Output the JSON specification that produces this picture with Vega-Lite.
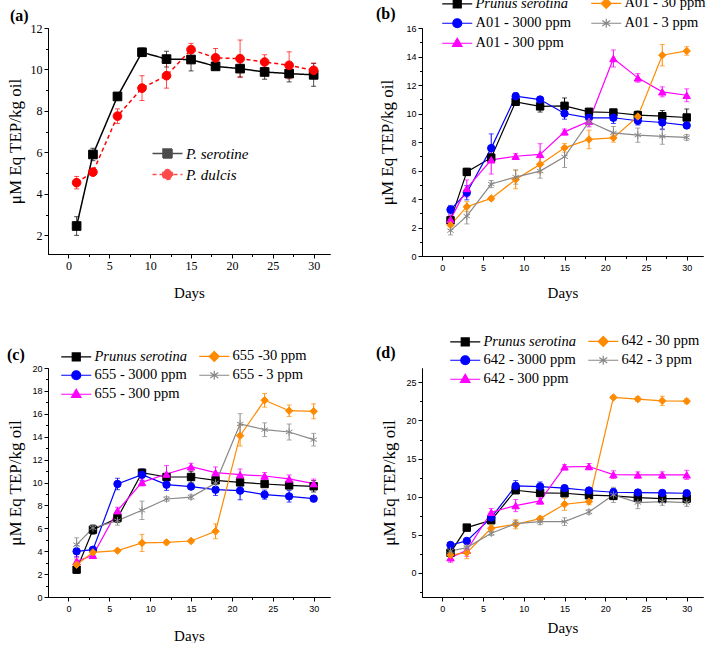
{
"$schema":"https://vega.github.io/schema/vega-lite/v6.json",
"padding":{"left":6,"top":-4,"right":0,"bottom":0},
"background":"white",
"config":{"view":{"stroke":null},"axis":{"domain":true,"ticks":true,"domainColor":"#000000","tickColor":"#000000","labelColor":"#000000","titleColor":"#000000","grid":false,"domainWidth":1,"tickWidth":1},"legend":{"labelColor":"#000000"}},
"bounds":"flush",
"columns":2,
"spacing":{"row":112,"column":92},
"resolve":{"scale":{"color":"independent","shape":"independent","stroke":"independent","strokeDash":"independent"},"legend":{"color":"independent","shape":"independent","stroke":"independent","strokeDash":"independent"}},
"concat":[
{
"width":282,"height":226,
"title":{"text":"(a)","anchor":"start","frame":"group","dx":-38,"offset":-15,"baseline":"alphabetic","fontSize":16,"font":"Liberation Serif","fontWeight":"bold","color":"#000000"},
"data":{"values":[
{"s":"P. serotine","d":1,"v":2.45,"e":0.45},{"s":"P. serotine","d":3,"v":5.9,"e":0.3},{"s":"P. serotine","d":6,"v":8.7,"e":0.1},{"s":"P. serotine","d":9,"v":10.83,"e":0.2},{"s":"P. serotine","d":12,"v":10.5,"e":0.38},{"s":"P. serotine","d":15,"v":10.48,"e":0.55},{"s":"P. serotine","d":18,"v":10.15,"e":0.1},{"s":"P. serotine","d":21,"v":10.04,"e":0.4},{"s":"P. serotine","d":24,"v":9.88,"e":0.35},{"s":"P. serotine","d":27,"v":9.8,"e":0.4},{"s":"P. serotine","d":30,"v":9.74,"e":0.55},
{"s":"P. dulcis","d":1,"v":4.54,"e":0.3},{"s":"P. dulcis","d":3,"v":5.05,"e":0.1},{"s":"P. dulcis","d":6,"v":7.75,"e":0.35},{"s":"P. dulcis","d":9,"v":9.1,"e":0.6},{"s":"P. dulcis","d":12,"v":9.7,"e":0.6},{"s":"P. dulcis","d":15,"v":10.96,"e":0.3},{"s":"P. dulcis","d":18,"v":10.56,"e":0.45},{"s":"P. dulcis","d":21,"v":10.52,"e":0.9},{"s":"P. dulcis","d":24,"v":10.36,"e":0.35},{"s":"P. dulcis","d":27,"v":10.2,"e":0.65},{"s":"P. dulcis","d":30,"v":9.96,"e":0.35}
]},
"resolve":{"axis":{"x":"independent","y":"independent"}},
"layer":[
{"mark":{"type":"errorbar","ticks":true,"size":5,"thickness":1,"opacity":0.7},
 "encoding":{"x":{"field":"d","type":"quantitative","scale":{"domain":[-2.5,32],"nice":false,"zero":false},"axis":null},
 "y":{"field":"v","type":"quantitative","scale":{"domain":[1.1,12],"nice":false,"zero":false},"axis":null},
 "yError":{"field":"e"},
 "color":{"field":"s","type":"nominal","scale":{"domain":["P. serotine","P. dulcis"],"range":["#000000","#ff0000"]}}}},
{"mark":{"type":"line","strokeWidth":1.5},
 "encoding":{"x":{"field":"d","type":"quantitative","scale":{"domain":[-2.5,32],"nice":false,"zero":false},"axis":{"orient":"bottom","values":[2.5,7.5,12.5,17.5,22.5,27.5],"labels":false,"title":null,"tickSize":2.5}},
 "y":{"field":"v","type":"quantitative","scale":{"domain":[1.1,12],"nice":false,"zero":false},"axis":{"orient":"left","values":[3,5,7,9,11],"labels":false,"title":null,"tickSize":2.5}},
 "color":{"field":"s","type":"nominal","scale":{"domain":["P. serotine","P. dulcis"],"range":["#000000","#ff0000"]}},
 "strokeDash":{"field":"s","type":"nominal","scale":{"domain":["P. serotine","P. dulcis"],"range":[[1,0],[4,3]]},"legend":null}}},
{"mark":{"type":"point","filled":true,"size":75,"opacity":1,"strokeWidth":1},
 "encoding":{"x":{"field":"d","type":"quantitative","scale":{"domain":[-2.5,32],"nice":false,"zero":false},"axis":{"orient":"bottom","values":[0,5,10,15,20,25,30],"title":"Days","titleFont":"Liberation Serif","titleFontSize":15,"titleFontWeight":"normal","titleY":38,"titleBaseline":"middle","labelFont":"Liberation Serif","labelFontSize":12,"labelPadding":2,"tickSize":4}},
 "y":{"field":"v","type":"quantitative","scale":{"domain":[1.1,12],"nice":false,"zero":false},"axis":{"orient":"left","values":[2,4,6,8,10,12],"title":"μM Eq TEP/kg oil","titleFont":"Liberation Serif","titleFontSize":17,"titleFontWeight":"normal","titleX":-24,"titleBaseline":"bottom","labelFont":"Liberation Serif","labelFontSize":12,"labelPadding":2,"tickSize":4}},
 "color":{"field":"s","type":"nominal","scale":{"domain":["P. serotine","P. dulcis"],"range":["#000000","#ff0000"]},
   "legend":{"orient":"none","legendX":102,"legendY":118,"title":null,"symbolSize":100,"symbolOpacity":1,"labelFont":"Liberation Serif","labelFontSize":15,"labelFontStyle":"italic","labelOffset":21,"rowPadding":4,
     "symbolType":{"expr":"['M-1,0H5M1.1,-0.9H2.9V0.9H1.1Z','M-1,0H5M1,0A1,1 0 1,0 3,0A1,1 0 1,0 1,0Z'][datum.index]"},
     "symbolStrokeColor":{"expr":"['#000000','#ff0000'][datum.index]"},"symbolStrokeWidth":1.5}},
 "shape":{"field":"s","type":"nominal","scale":{"domain":["P. dulcis","P. serotine"],"range":["circle","square"]},"legend":null},
 "stroke":{"field":"s","type":"nominal","scale":{"domain":["P. serotine","P. dulcis"],"range":["#000000","#ff0000"]},"legend":null}}}
]
},
{
"width":281,"height":228,
"title":{"text":"(b)","anchor":"start","frame":"group","dx":-46,"offset":-39,"baseline":"alphabetic","fontSize":16,"font":"Liberation Serif","fontWeight":"bold","color":"#000000"},
"data":{"values":[
{"s":"Prunus serotina","d":1,"v":2.5,"e":0.3},{"s":"Prunus serotina","d":3,"v":5.9,"e":0.25},{"s":"Prunus serotina","d":6,"v":6.9,"e":0.3},{"s":"Prunus serotina","d":9,"v":10.82,"e":0.2},{"s":"Prunus serotina","d":12,"v":10.5,"e":0.4},{"s":"Prunus serotina","d":15,"v":10.54,"e":0.55},{"s":"Prunus serotina","d":18,"v":10.12,"e":0.15},{"s":"Prunus serotina","d":21,"v":10.07,"e":0.2},{"s":"Prunus serotina","d":24,"v":9.88,"e":0.3},{"s":"Prunus serotina","d":27,"v":9.81,"e":0.4},{"s":"Prunus serotina","d":30,"v":9.72,"e":0.6},
{"s":"A01 - 3000 ppm","d":1,"v":3.25,"e":0.3},{"s":"A01 - 3000 ppm","d":3,"v":4.44,"e":0.5},{"s":"A01 - 3000 ppm","d":6,"v":7.57,"e":1.0},{"s":"A01 - 3000 ppm","d":9,"v":11.21,"e":0.25},{"s":"A01 - 3000 ppm","d":12,"v":10.98,"e":0.2},{"s":"A01 - 3000 ppm","d":15,"v":10.0,"e":0.4},{"s":"A01 - 3000 ppm","d":18,"v":9.7,"e":0.3},{"s":"A01 - 3000 ppm","d":21,"v":9.7,"e":0.4},{"s":"A01 - 3000 ppm","d":24,"v":9.49,"e":0.3},{"s":"A01 - 3000 ppm","d":27,"v":9.37,"e":0.5},{"s":"A01 - 3000 ppm","d":30,"v":9.16,"e":0.2},
{"s":"A01 - 300 ppm","d":1,"v":2.57,"e":0.3},{"s":"A01 - 300 ppm","d":3,"v":4.74,"e":0.6},{"s":"A01 - 300 ppm","d":6,"v":6.75,"e":1.0},{"s":"A01 - 300 ppm","d":9,"v":7.0,"e":0.2},{"s":"A01 - 300 ppm","d":12,"v":7.13,"e":0.75},{"s":"A01 - 300 ppm","d":15,"v":8.71,"e":0.2},{"s":"A01 - 300 ppm","d":18,"v":9.46,"e":0.4},{"s":"A01 - 300 ppm","d":21,"v":13.86,"e":0.6},{"s":"A01 - 300 ppm","d":24,"v":12.5,"e":0.3},{"s":"A01 - 300 ppm","d":27,"v":11.52,"e":0.35},{"s":"A01 - 300 ppm","d":30,"v":11.28,"e":0.45},
{"s":"A01 - 30 ppm","d":1,"v":2.17,"e":0.3},{"s":"A01 - 30 ppm","d":3,"v":3.46,"e":0.35},{"s":"A01 - 30 ppm","d":6,"v":4.04,"e":0.15},{"s":"A01 - 30 ppm","d":9,"v":5.37,"e":0.65},{"s":"A01 - 30 ppm","d":12,"v":6.43,"e":0.6},{"s":"A01 - 30 ppm","d":15,"v":7.59,"e":0.3},{"s":"A01 - 30 ppm","d":18,"v":8.18,"e":0.65},{"s":"A01 - 30 ppm","d":21,"v":8.29,"e":0.3},{"s":"A01 - 30 ppm","d":24,"v":9.79,"e":0.3},{"s":"A01 - 30 ppm","d":27,"v":14.09,"e":0.75},{"s":"A01 - 30 ppm","d":30,"v":14.39,"e":0.3},
{"s":"A01 - 3 ppm","d":1,"v":1.78,"e":0.3},{"s":"A01 - 3 ppm","d":3,"v":2.8,"e":0.55},{"s":"A01 - 3 ppm","d":6,"v":5.05,"e":0.25},{"s":"A01 - 3 ppm","d":9,"v":5.54,"e":0.5},{"s":"A01 - 3 ppm","d":12,"v":5.96,"e":0.5},{"s":"A01 - 3 ppm","d":15,"v":6.96,"e":0.75},{"s":"A01 - 3 ppm","d":18,"v":9.42,"e":0.3},{"s":"A01 - 3 ppm","d":21,"v":8.64,"e":0.45},{"s":"A01 - 3 ppm","d":24,"v":8.48,"e":0.5},{"s":"A01 - 3 ppm","d":27,"v":8.39,"e":0.55},{"s":"A01 - 3 ppm","d":30,"v":8.32,"e":0.2}
]},
"resolve":{"axis":{"x":"independent","y":"independent"}},
"layer":[
{"mark":{"type":"errorbar","ticks":true,"size":5,"thickness":1},
 "encoding":{"x":{"field":"d","type":"quantitative","scale":{"domain":[-2.5,32],"nice":false,"zero":false},"axis":null},
 "y":{"field":"v","type":"quantitative","scale":{"domain":[0,16],"nice":false,"zero":false},"axis":null},
 "yError":{"field":"e"},
 "color":{"field":"s","type":"nominal","scale":{"domain":["Prunus serotina","A01 - 3000 ppm","A01 - 300 ppm","A01 - 30 ppm","A01 - 3 ppm"],"range":["#000000","#0000ff","#ff00ff","#ff8a00","#888888"]}}}},
{"mark":{"type":"line","strokeWidth":1.2},
 "encoding":{"x":{"field":"d","type":"quantitative","scale":{"domain":[-2.5,32],"nice":false,"zero":false},"axis":{"orient":"bottom","values":[2.5,7.5,12.5,17.5,22.5,27.5],"labels":false,"title":null,"tickSize":2.5}},
 "y":{"field":"v","type":"quantitative","scale":{"domain":[0,16],"nice":false,"zero":false},"axis":{"orient":"left","values":[1,3,5,7,9,11,13,15],"labels":false,"title":null,"tickSize":2.5}},
 "color":{"field":"s","type":"nominal","scale":{"domain":["Prunus serotina","A01 - 3000 ppm","A01 - 300 ppm","A01 - 30 ppm","A01 - 3 ppm"],"range":["#000000","#0000ff","#ff00ff","#ff8a00","#888888"]}}}},
{"mark":{"type":"point","filled":true,"size":55,"opacity":1,"strokeWidth":1},
 "encoding":{"x":{"field":"d","type":"quantitative","scale":{"domain":[-2.5,32],"nice":false,"zero":false},"axis":{"orient":"bottom","values":[0,5,10,15,20,25,30],"title":"Days","titleFont":"Liberation Serif","titleFontSize":15,"titleFontWeight":"normal","titleY":36,"titleBaseline":"middle","labelFont":"Liberation Sans","labelFontSize":9,"labelPadding":3,"tickSize":4}},
 "y":{"field":"v","type":"quantitative","scale":{"domain":[0,16],"nice":false,"zero":false},"axis":{"orient":"left","values":[0,2,4,6,8,10,12,14,16],"title":"μM Eq TEP/kg oil","titleFont":"Liberation Serif","titleFontSize":17,"titleFontWeight":"normal","titleX":-26,"titleBaseline":"bottom","labelFont":"Liberation Sans","labelFontSize":9,"labelPadding":2,"tickSize":4}},
 "color":{"field":"s","type":"nominal","scale":{"domain":["Prunus serotina","A01 - 3000 ppm","A01 - 300 ppm","A01 - 30 ppm","A01 - 3 ppm"],"range":["#000000","#0000ff","#ff00ff","#ff8a00","#888888"]},
   "legend":{"orient":"none","legendX":18,"legendY":-32,"columns":2,"columnPadding":17,"title":null,"symbolSize":100,"symbolOpacity":1,"labelFont":"Liberation Serif","labelFontSize":14.5,"labelOffset":21,"rowPadding":4,
     "symbolType":{"expr":"['M-1,0H5M1.2,-0.8H2.8V0.8H1.2Z','M-1,0H5M1.1,0A0.9,0.9 0 1,0 2.9,0A0.9,0.9 0 1,0 1.1,0Z','M-1,0H5M2,-1L2.95,0.65H1.05Z','M-1,0H5M2,-1L3,0L2,1L1,0Z','M-1,0H5M2,-0.9V0.9M1.2,-0.55L2.8,0.55M1.2,0.55L2.8,-0.55'][datum.index]"},
     "symbolStrokeColor":{"expr":"['#000000','#0000ff','#ff00ff','#ff8a00','#888888'][datum.index]"},"symbolStrokeWidth":1.2,
     "encode":{"labels":{"update":{"fontStyle":{"signal":"datum.index===0 ? 'italic' : 'normal'"}}}}}},
 "shape":{"field":"s","type":"nominal","scale":{"domain":["A01 - 3 ppm","A01 - 30 ppm","A01 - 300 ppm","A01 - 3000 ppm","Prunus serotina"],"range":["M0,-1V1M-0.87,-0.5L0.87,0.5M-0.87,0.5L0.87,-0.5","diamond","triangle-up","circle","square"]},"legend":null},
 "stroke":{"field":"s","type":"nominal","scale":{"domain":["Prunus serotina","A01 - 3000 ppm","A01 - 300 ppm","A01 - 30 ppm","A01 - 3 ppm"],"range":["#000000","#0000ff","#ff00ff","#ff8a00","#888888"]},"legend":null}}}
]
},
{
"width":282,"height":229,
"title":{"text":"(c)","anchor":"start","frame":"group","dx":-41,"offset":-27,"baseline":"alphabetic","fontSize":16,"font":"Liberation Serif","fontWeight":"bold","color":"#000000"},
"data":{"values":[
{"s":"Prunus serotina","d":1,"v":2.39,"e":0.3},{"s":"Prunus serotina","d":3,"v":5.88,"e":0.4},{"s":"Prunus serotina","d":6,"v":6.9,"e":0.4},{"s":"Prunus serotina","d":9,"v":10.85,"e":0.3},{"s":"Prunus serotina","d":12,"v":10.48,"e":0.3},{"s":"Prunus serotina","d":15,"v":10.48,"e":0.5},{"s":"Prunus serotina","d":18,"v":10.19,"e":0.3},{"s":"Prunus serotina","d":21,"v":10.01,"e":0.2},{"s":"Prunus serotina","d":24,"v":9.87,"e":0.2},{"s":"Prunus serotina","d":27,"v":9.75,"e":0.3},{"s":"Prunus serotina","d":30,"v":9.67,"e":0.5},
{"s":"655 - 3000 ppm","d":1,"v":3.99,"e":0.5},{"s":"655 - 3000 ppm","d":3,"v":4.13,"e":0.2},{"s":"655 - 3000 ppm","d":6,"v":9.87,"e":0.5},{"s":"655 - 3000 ppm","d":9,"v":10.68,"e":0.5},{"s":"655 - 3000 ppm","d":12,"v":9.81,"e":0.5},{"s":"655 - 3000 ppm","d":15,"v":9.64,"e":0.15},{"s":"655 - 3000 ppm","d":18,"v":9.37,"e":0.5},{"s":"655 - 3000 ppm","d":21,"v":9.29,"e":0.8},{"s":"655 - 3000 ppm","d":24,"v":8.94,"e":0.4},{"s":"655 - 3000 ppm","d":27,"v":8.79,"e":0.5},{"s":"655 - 3000 ppm","d":30,"v":8.59,"e":0.2},
{"s":"655 - 300 ppm","d":1,"v":3.12,"e":0.4},{"s":"655 - 300 ppm","d":3,"v":3.64,"e":0.2},{"s":"655 - 300 ppm","d":6,"v":7.54,"e":0.3},{"s":"655 - 300 ppm","d":9,"v":10.01,"e":0.3},{"s":"655 - 300 ppm","d":12,"v":10.74,"e":0.75},{"s":"655 - 300 ppm","d":15,"v":11.38,"e":0.3},{"s":"655 - 300 ppm","d":18,"v":10.86,"e":0.5},{"s":"655 - 300 ppm","d":21,"v":10.68,"e":0.5},{"s":"655 - 300 ppm","d":24,"v":10.57,"e":0.3},{"s":"655 - 300 ppm","d":27,"v":10.31,"e":0.35},{"s":"655 - 300 ppm","d":30,"v":9.9,"e":0.4},
{"s":"655 -30 ppm","d":1,"v":2.82,"e":0.5},{"s":"655 -30 ppm","d":3,"v":3.9,"e":0.2},{"s":"655 -30 ppm","d":6,"v":4.05,"e":0.1},{"s":"655 -30 ppm","d":9,"v":4.72,"e":0.75},{"s":"655 -30 ppm","d":12,"v":4.77,"e":0.15},{"s":"655 -30 ppm","d":15,"v":4.89,"e":0.15},{"s":"655 -30 ppm","d":18,"v":5.74,"e":0.65},{"s":"655 -30 ppm","d":21,"v":14.09,"e":0.9},{"s":"655 -30 ppm","d":24,"v":17.18,"e":0.6},{"s":"655 -30 ppm","d":27,"v":16.27,"e":0.5},{"s":"655 -30 ppm","d":30,"v":16.22,"e":0.65},
{"s":"655 - 3 ppm","d":1,"v":4.57,"e":0.6},{"s":"655 - 3 ppm","d":3,"v":6.03,"e":0.3},{"s":"655 - 3 ppm","d":6,"v":6.67,"e":0.4},{"s":"655 - 3 ppm","d":9,"v":7.57,"e":0.8},{"s":"655 - 3 ppm","d":12,"v":8.56,"e":0.2},{"s":"655 - 3 ppm","d":15,"v":8.73,"e":0.2},{"s":"655 - 3 ppm","d":18,"v":9.96,"e":0.3},{"s":"655 - 3 ppm","d":21,"v":15.11,"e":0.9},{"s":"655 - 3 ppm","d":24,"v":14.61,"e":0.6},{"s":"655 - 3 ppm","d":27,"v":14.41,"e":0.7},{"s":"655 - 3 ppm","d":30,"v":13.74,"e":0.55}
]},
"resolve":{"axis":{"x":"independent","y":"independent"}},
"layer":[
{"mark":{"type":"errorbar","ticks":true,"size":5,"thickness":1},
 "encoding":{"x":{"field":"d","type":"quantitative","scale":{"domain":[-2.5,32],"nice":false,"zero":false},"axis":null},
 "y":{"field":"v","type":"quantitative","scale":{"domain":[0,20],"nice":false,"zero":false},"axis":null},
 "yError":{"field":"e"},
 "color":{"field":"s","type":"nominal","scale":{"domain":["Prunus serotina","655 - 3000 ppm","655 - 300 ppm","655 -30 ppm","655 - 3 ppm"],"range":["#000000","#0000ff","#ff00ff","#ff8a00","#888888"]}}}},
{"mark":{"type":"line","strokeWidth":1.2},
 "encoding":{"x":{"field":"d","type":"quantitative","scale":{"domain":[-2.5,32],"nice":false,"zero":false},"axis":{"orient":"bottom","values":[2.5,7.5,12.5,17.5,22.5,27.5],"labels":false,"title":null,"tickSize":2.5}},
 "y":{"field":"v","type":"quantitative","scale":{"domain":[0,20],"nice":false,"zero":false},"axis":{"orient":"left","values":[1,3,5,7,9,11,13,15,17,19],"labels":false,"title":null,"tickSize":2.5}},
 "color":{"field":"s","type":"nominal","scale":{"domain":["Prunus serotina","655 - 3000 ppm","655 - 300 ppm","655 -30 ppm","655 - 3 ppm"],"range":["#000000","#0000ff","#ff00ff","#ff8a00","#888888"]}}}},
{"mark":{"type":"point","filled":true,"size":55,"opacity":1,"strokeWidth":1},
 "encoding":{"x":{"field":"d","type":"quantitative","scale":{"domain":[-2.5,32],"nice":false,"zero":false},"axis":{"orient":"bottom","values":[0,5,10,15,20,25,30],"title":"Days","titleFont":"Liberation Serif","titleFontSize":15,"titleFontWeight":"normal","titleY":38,"titleBaseline":"middle","labelFont":"Liberation Sans","labelFontSize":9,"labelPadding":3,"tickSize":4}},
 "y":{"field":"v","type":"quantitative","scale":{"domain":[0,20],"nice":false,"zero":false},"axis":{"orient":"left","values":[0,2,4,6,8,10,12,14,16,18,20],"title":"μM Eq TEP/kg oil","titleFont":"Liberation Serif","titleFontSize":17,"titleFontWeight":"normal","titleX":-24,"titleBaseline":"bottom","labelFont":"Liberation Sans","labelFontSize":9,"labelPadding":2,"tickSize":4}},
 "color":{"field":"s","type":"nominal","scale":{"domain":["Prunus serotina","655 - 3000 ppm","655 - 300 ppm","655 -30 ppm","655 - 3 ppm"],"range":["#000000","#0000ff","#ff00ff","#ff8a00","#888888"]},
   "legend":{"orient":"none","legendX":11,"legendY":-19,"columns":2,"columnPadding":8,"title":null,"symbolSize":100,"symbolOpacity":1,"labelFont":"Liberation Serif","labelFontSize":14.5,"labelOffset":21,"rowPadding":3,
     "symbolType":{"expr":"['M-1,0H5M1.2,-0.8H2.8V0.8H1.2Z','M-1,0H5M1.1,0A0.9,0.9 0 1,0 2.9,0A0.9,0.9 0 1,0 1.1,0Z','M-1,0H5M2,-1L2.95,0.65H1.05Z','M-1,0H5M2,-1L3,0L2,1L1,0Z','M-1,0H5M2,-0.9V0.9M1.2,-0.55L2.8,0.55M1.2,0.55L2.8,-0.55'][datum.index]"},
     "symbolStrokeColor":{"expr":"['#000000','#0000ff','#ff00ff','#ff8a00','#888888'][datum.index]"},"symbolStrokeWidth":1.2,
     "encode":{"labels":{"update":{"fontStyle":{"signal":"datum.index===0 ? 'italic' : 'normal'"}}}}}},
 "shape":{"field":"s","type":"nominal","scale":{"domain":["655 - 3 ppm","655 -30 ppm","655 - 300 ppm","655 - 3000 ppm","Prunus serotina"],"range":["M0,-1V1M-0.87,-0.5L0.87,0.5M-0.87,0.5L0.87,-0.5","diamond","triangle-up","circle","square"]},"legend":null},
 "stroke":{"field":"s","type":"nominal","scale":{"domain":["Prunus serotina","655 - 3000 ppm","655 - 300 ppm","655 -30 ppm","655 - 3 ppm"],"range":["#000000","#0000ff","#ff00ff","#ff8a00","#888888"]},"legend":null}}}
]
},
{
"width":281,"height":229,
"title":{"text":"(d)","anchor":"start","frame":"group","dx":-46,"offset":-40,"baseline":"alphabetic","fontSize":16,"font":"Liberation Serif","fontWeight":"bold","color":"#000000"},
"data":{"values":[
{"s":"Prunus serotina","d":1,"v":2.63,"e":0.3},{"s":"Prunus serotina","d":3,"v":5.92,"e":0.2},{"s":"Prunus serotina","d":6,"v":6.89,"e":0.3},{"s":"Prunus serotina","d":9,"v":10.83,"e":0.3},{"s":"Prunus serotina","d":12,"v":10.48,"e":0.3},{"s":"Prunus serotina","d":15,"v":10.44,"e":0.3},{"s":"Prunus serotina","d":18,"v":10.18,"e":0.3},{"s":"Prunus serotina","d":21,"v":10.09,"e":0.3},{"s":"Prunus serotina","d":24,"v":9.87,"e":0.3},{"s":"Prunus serotina","d":27,"v":9.74,"e":0.3},{"s":"Prunus serotina","d":30,"v":9.74,"e":0.3},
{"s":"642 - 3000 ppm","d":1,"v":3.64,"e":0.3},{"s":"642 - 3000 ppm","d":3,"v":4.17,"e":0.3},{"s":"642 - 3000 ppm","d":6,"v":7.24,"e":0.4},{"s":"642 - 3000 ppm","d":9,"v":11.4,"e":0.7},{"s":"642 - 3000 ppm","d":12,"v":11.32,"e":0.6},{"s":"642 - 3000 ppm","d":15,"v":11.1,"e":0.4},{"s":"642 - 3000 ppm","d":18,"v":10.8,"e":0.3},{"s":"642 - 3000 ppm","d":21,"v":10.57,"e":0.5},{"s":"642 - 3000 ppm","d":24,"v":10.53,"e":0.3},{"s":"642 - 3000 ppm","d":27,"v":10.48,"e":0.3},{"s":"642 - 3000 ppm","d":30,"v":10.44,"e":0.3},
{"s":"642 - 300 ppm","d":1,"v":1.97,"e":0.6},{"s":"642 - 300 ppm","d":3,"v":2.94,"e":0.8},{"s":"642 - 300 ppm","d":6,"v":7.94,"e":0.5},{"s":"642 - 300 ppm","d":9,"v":8.82,"e":0.8},{"s":"642 - 300 ppm","d":12,"v":9.43,"e":0.4},{"s":"642 - 300 ppm","d":15,"v":13.9,"e":0.3},{"s":"642 - 300 ppm","d":18,"v":13.95,"e":0.4},{"s":"642 - 300 ppm","d":21,"v":12.89,"e":0.5},{"s":"642 - 300 ppm","d":24,"v":12.85,"e":0.4},{"s":"642 - 300 ppm","d":27,"v":12.85,"e":0.4},{"s":"642 - 300 ppm","d":30,"v":12.85,"e":0.6},
{"s":"642 - 30 ppm","d":1,"v":2.32,"e":0.4},{"s":"642 - 30 ppm","d":3,"v":2.63,"e":0.8},{"s":"642 - 30 ppm","d":6,"v":5.83,"e":0.4},{"s":"642 - 30 ppm","d":9,"v":6.36,"e":0.6},{"s":"642 - 30 ppm","d":12,"v":7.1,"e":0.3},{"s":"642 - 30 ppm","d":15,"v":8.99,"e":0.8},{"s":"642 - 30 ppm","d":18,"v":9.34,"e":0.4},{"s":"642 - 30 ppm","d":21,"v":23.03,"e":0.2},{"s":"642 - 30 ppm","d":24,"v":22.81,"e":0.3},{"s":"642 - 30 ppm","d":27,"v":22.59,"e":0.6},{"s":"642 - 30 ppm","d":30,"v":22.54,"e":0.3},
{"s":"642 - 3 ppm","d":1,"v":2.85,"e":0.3},{"s":"642 - 3 ppm","d":3,"v":3.29,"e":0.3},{"s":"642 - 3 ppm","d":6,"v":5.18,"e":0.3},{"s":"642 - 3 ppm","d":9,"v":6.45,"e":0.4},{"s":"642 - 3 ppm","d":12,"v":6.71,"e":0.4},{"s":"642 - 3 ppm","d":15,"v":6.71,"e":0.5},{"s":"642 - 3 ppm","d":18,"v":7.98,"e":0.3},{"s":"642 - 3 ppm","d":21,"v":10.22,"e":1.0},{"s":"642 - 3 ppm","d":24,"v":9.21,"e":0.8},{"s":"642 - 3 ppm","d":27,"v":9.34,"e":0.5},{"s":"642 - 3 ppm","d":30,"v":9.21,"e":0.5}
]},
"resolve":{"axis":{"x":"independent","y":"independent"}},
"layer":[
{"mark":{"type":"errorbar","ticks":true,"size":5,"thickness":1},
 "encoding":{"x":{"field":"d","type":"quantitative","scale":{"domain":[-2.5,32],"nice":false,"zero":false},"axis":null},
 "y":{"field":"v","type":"quantitative","scale":{"domain":[-3.2,26.9],"nice":false,"zero":false},"axis":null},
 "yError":{"field":"e"},
 "color":{"field":"s","type":"nominal","scale":{"domain":["Prunus serotina","642 - 3000 ppm","642 - 300 ppm","642 - 30 ppm","642 - 3 ppm"],"range":["#000000","#0000ff","#ff00ff","#ff8a00","#888888"]}}}},
{"mark":{"type":"line","strokeWidth":1.2},
 "encoding":{"x":{"field":"d","type":"quantitative","scale":{"domain":[-2.5,32],"nice":false,"zero":false},"axis":{"orient":"bottom","values":[2.5,7.5,12.5,17.5,22.5,27.5],"labels":false,"title":null,"tickSize":2.5}},
 "y":{"field":"v","type":"quantitative","scale":{"domain":[-3.2,26.9],"nice":false,"zero":false},"axis":{"orient":"left","values":[-2.5,2.5,7.5,12.5,17.5,22.5],"labels":false,"title":null,"tickSize":2.5}},
 "color":{"field":"s","type":"nominal","scale":{"domain":["Prunus serotina","642 - 3000 ppm","642 - 300 ppm","642 - 30 ppm","642 - 3 ppm"],"range":["#000000","#0000ff","#ff00ff","#ff8a00","#888888"]}}}},
{"mark":{"type":"point","filled":true,"size":55,"opacity":1,"strokeWidth":1},
 "encoding":{"x":{"field":"d","type":"quantitative","scale":{"domain":[-2.5,32],"nice":false,"zero":false},"axis":{"orient":"bottom","values":[0,5,10,15,20,25,30],"title":"Days","titleFont":"Liberation Serif","titleFontSize":15,"titleFontWeight":"normal","titleY":30,"titleBaseline":"middle","labelFont":"Liberation Sans","labelFontSize":9,"labelPadding":3,"tickSize":4}},
 "y":{"field":"v","type":"quantitative","scale":{"domain":[-3.2,26.9],"nice":false,"zero":false},"axis":{"orient":"left","values":[0,5,10,15,20,25],"title":"μM Eq TEP/kg oil","titleFont":"Liberation Serif","titleFontSize":17,"titleFontWeight":"normal","titleX":-24,"titleBaseline":"bottom","labelFont":"Liberation Sans","labelFontSize":9,"labelPadding":2,"tickSize":4}},
 "color":{"field":"s","type":"nominal","scale":{"domain":["Prunus serotina","642 - 3000 ppm","642 - 300 ppm","642 - 30 ppm","642 - 3 ppm"],"range":["#000000","#0000ff","#ff00ff","#ff8a00","#888888"]},
   "legend":{"orient":"none","legendX":26,"legendY":-34,"columns":2,"columnPadding":8,"title":null,"symbolSize":100,"symbolOpacity":1,"labelFont":"Liberation Serif","labelFontSize":14.5,"labelOffset":21,"rowPadding":3,
     "symbolType":{"expr":"['M-1,0H5M1.2,-0.8H2.8V0.8H1.2Z','M-1,0H5M1.1,0A0.9,0.9 0 1,0 2.9,0A0.9,0.9 0 1,0 1.1,0Z','M-1,0H5M2,-1L2.95,0.65H1.05Z','M-1,0H5M2,-1L3,0L2,1L1,0Z','M-1,0H5M2,-0.9V0.9M1.2,-0.55L2.8,0.55M1.2,0.55L2.8,-0.55'][datum.index]"},
     "symbolStrokeColor":{"expr":"['#000000','#0000ff','#ff00ff','#ff8a00','#888888'][datum.index]"},"symbolStrokeWidth":1.2,
     "encode":{"labels":{"update":{"fontStyle":{"signal":"datum.index===0 ? 'italic' : 'normal'"}}}}}},
 "shape":{"field":"s","type":"nominal","scale":{"domain":["642 - 3 ppm","642 - 30 ppm","642 - 300 ppm","642 - 3000 ppm","Prunus serotina"],"range":["M0,-1V1M-0.87,-0.5L0.87,0.5M-0.87,0.5L0.87,-0.5","diamond","triangle-up","circle","square"]},"legend":null},
 "stroke":{"field":"s","type":"nominal","scale":{"domain":["Prunus serotina","642 - 3000 ppm","642 - 300 ppm","642 - 30 ppm","642 - 3 ppm"],"range":["#000000","#0000ff","#ff00ff","#ff8a00","#888888"]},"legend":null}}}
]
}
]
}
